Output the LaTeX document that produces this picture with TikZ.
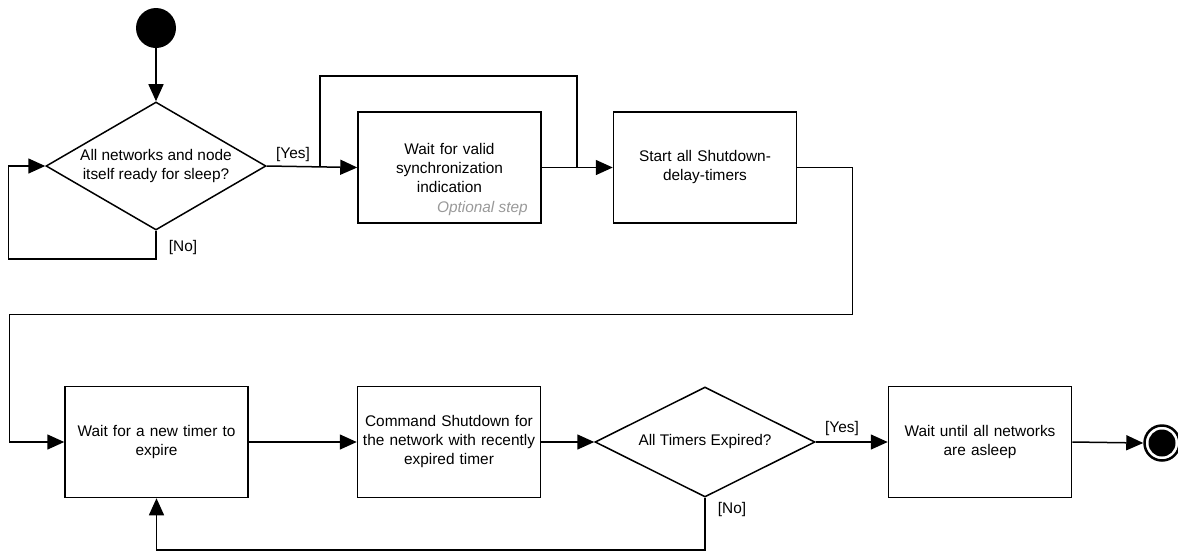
\documentclass[tikz,border=0pt]{standalone}
\usepackage{fontspec}
\setmainfont{Liberation Sans}
\usetikzlibrary{arrows.meta,calc,shapes.geometric}
\tikzset{
    >={Triangle[length=17pt,width=15pt]},
    actbox/.style={
        rectangle,
        draw, line width=1.5pt,
        minimum width=183pt,
        minimum height=111pt,
        text width=176pt,
        align=center,
        inner sep=0pt
    },
    decision/.style={
        diamond,
        draw, line width=1.5pt,
        inner sep=0pt
    },
    question/.style={label={[align=center]center:#1}},
    line/.style={draw, line width=1.5pt},
    flow/.style={line, ->},
    guard/.style={inner sep=0pt},
    hint/.style={inner sep=0pt, text=black!40, font={\fontsize{15.4pt}{19pt}\selectfont\itshape}},
    font={\fontsize{15.4pt}{19pt}\selectfont},
}
\begin{document}
\begin{tikzpicture}[x=1pt,y=-1pt]
\useasboundingbox (0,0) rectangle (1178,552);
% top row
\node[circle,fill,minimum size=40pt,inner sep=0pt] (init) at (156,28) {};
\node[decision,minimum width=220pt,minimum height=128pt,
      question={All networks and node\\itself ready for sleep?}] (ready) at (156,166) {};
\node[actbox] (wsync) at (449.5,167.5) {Wait for valid\\synchronization\\indication};
\node[hint,anchor=east] (optional) at (528,209) {Optional step};
\node[actbox] (starttm) at (705,167.5) {Start all Shutdown-\\delay-timers};
% bottom row
\node[actbox] (waittm) at (156.5,442) {Wait for a new timer to\\expire};
\node[actbox] (cmdsd) at (449,442) {Command Shutdown for\\the network with recently\\expired timer};
\node[decision,minimum width=220pt,minimum height=110pt,
      question={All Timers Expired?}] (expired) at (705,442) {};
\node[actbox] (asleep) at (980,442) {Wait until all networks\\are asleep};
\node[circle,draw,line width=2.5pt,minimum size=35pt,inner sep=0pt] (final) at (1162,443) {};
\fill (final.center) circle (13.5pt);
% guards
\node[guard] (yes1) at (293,155) {[Yes]};
\node[guard] (no1) at (183,248) {[No]};
\node[guard] (yes2) at (842,429) {[Yes]};
\node[guard] (no2) at (732,510) {[No]};
% connectors
\coordinate (ysplit) at (320,167);
\coordinate (yjoin) at (577,167);
\draw[flow] (init) -- (ready);
\draw[flow] (ready.east) -- (wsync.west);
\draw[line] (ysplit) -- ++(0,-91) -| (yjoin);
\draw[flow] (wsync.east) -- (starttm.west);
\draw[flow] (ready.south) -- ++(0,28) -| ([xshift=-37pt]ready.west) -- (ready.west);
\draw[flow] (starttm.east) -- ++(55,0) -- ++(0,147) -| ([xshift=-55pt]waittm.west) -- (waittm.west);
\draw[flow] (waittm.east) -- (cmdsd.west);
\draw[flow] (cmdsd.east) -- (expired.west);
\draw[flow] (expired.east) -- (asleep.west);
\draw[flow] (asleep.east) -- (final.west);
\draw[flow] (expired.south) -- ++(0,52) -| (waittm.south);
\end{tikzpicture}
\end{document}
